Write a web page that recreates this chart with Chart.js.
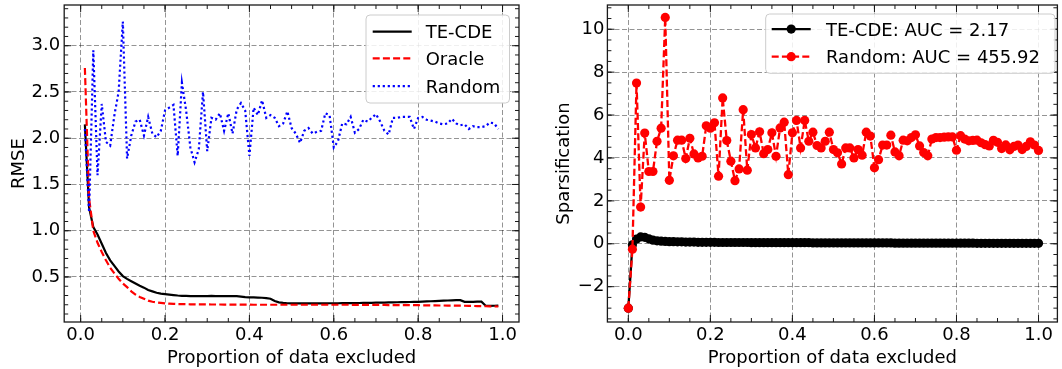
<!DOCTYPE html>
<html><head><meta charset="utf-8">
<script src="https://cdn.jsdelivr.net/npm/chart.js@4.4.1/dist/chart.umd.min.js"></script>
<style>
html,body{margin:0;padding:0;background:#fff;overflow:hidden;}
#wrap{position:relative;width:1062px;height:369px;}
canvas{position:absolute;top:0;}
#c1{left:0;} #c2{left:530px;}
</style></head><body>
<div id="wrap"><canvas id="c1" width="530" height="369"></canvas><canvas id="c2" width="532" height="369"></canvas></div>
<script>
// ---------- data ----------
const xLeft = [0.01,0.02,0.03,0.04,0.05,0.06,0.07,0.08,0.09,0.10,0.11,0.12,0.13,0.14,0.15,0.16,0.17,0.18,0.19,0.20,0.21,0.22,0.23,0.24,0.25,0.26,0.27,0.28,0.29,0.30,0.31,0.32,0.33,0.34,0.35,0.36,0.37,0.38,0.39,0.40,0.41,0.42,0.43,0.44,0.45,0.46,0.47,0.48,0.49,0.50,0.51,0.52,0.53,0.54,0.55,0.56,0.57,0.58,0.59,0.60,0.61,0.62,0.63,0.64,0.65,0.66,0.67,0.68,0.69,0.70,0.71,0.72,0.73,0.74,0.75,0.76,0.77,0.78,0.79,0.80,0.81,0.82,0.83,0.84,0.85,0.86,0.87,0.88,0.89,0.90,0.91,0.92,0.93,0.94,0.95,0.96,0.97,0.98,0.99];

const rmseTECDE = [2.15,1.25,1.04,0.96,0.86,0.76,0.68,0.62,0.56,0.51,
 0.48,0.455,0.43,0.405,0.385,0.36,0.345,0.33,0.32,0.315,
 0.31,0.305,0.30,0.297,0.295,0.294,0.294,0.293,0.294,0.294,
 0.295,0.294,0.294,0.293,0.294,0.294,0.293,0.288,0.282,0.28,
 0.279,0.278,0.276,0.272,0.265,0.24,0.226,0.22,0.216,0.215,
 0.215,0.215,0.214,0.215,0.215,0.216,0.215,0.215,0.216,0.216,
 0.216,0.217,0.217,0.218,0.218,0.219,0.22,0.22,0.221,0.222,
 0.223,0.224,0.225,0.226,0.227,0.228,0.229,0.23,0.231,0.232,
 0.234,0.236,0.238,0.24,0.242,0.244,0.246,0.248,0.249,0.25,
 0.232,0.232,0.232,0.233,0.233,0.19,0.188,0.189,0.19];

const rmseOracle = [2.76,1.35,1.0,0.87,0.77,0.68,0.6,0.54,0.48,0.43,
 0.39,0.345,0.31,0.285,0.265,0.245,0.232,0.225,0.22,0.215,
 0.212,0.21,0.208,0.207,0.206,0.205,0.205,0.204,0.204,0.204,
 0.203,0.203,0.203,0.202,0.202,0.202,0.202,0.201,0.201,0.201,
 0.2,0.2,0.2,0.2,0.2,0.2,0.2,0.2,0.2,0.2,
 0.2,0.2,0.2,0.2,0.2,0.2,0.2,0.2,0.2,0.2,
 0.2,0.2,0.2,0.2,0.199,0.199,0.199,0.199,0.198,0.198,
 0.198,0.198,0.197,0.197,0.197,0.196,0.196,0.196,0.195,0.195,
 0.194,0.194,0.193,0.193,0.192,0.192,0.191,0.191,0.19,0.19,
 0.189,0.188,0.187,0.186,0.185,0.184,0.183,0.182,0.181];

const rmseRandom = [2.1,1.2,2.95,1.6,2.37,1.96,1.92,2.25,2.5,3.26,
 1.78,2.03,2.18,2.2,2.03,2.23,2.05,2.01,2.08,2.3,
 2.33,2.36,1.81,2.6,2.3,1.9,1.74,1.88,2.5,1.86,
 2.22,2.2,2.27,2.08,2.27,2.05,2.31,2.38,2.3,1.81,
 2.33,2.25,2.41,2.22,2.25,2.22,2.13,2.16,2.29,2.11,
 2.05,1.95,2.08,2.11,2.05,2.07,2.08,2.27,2.25,1.9,
 1.97,2.16,2.15,2.23,2.06,2.1,2.2,2.18,2.22,2.26,
 2.18,2.08,2.04,2.22,2.22,2.23,2.23,2.23,2.1,2.22,
 2.23,2.2,2.19,2.18,2.16,2.15,2.16,2.21,2.16,2.14,
 2.15,2.1,2.13,2.12,2.12,2.13,2.17,2.16,2.1];

const xRight = [0.00,0.01,0.02,0.03,0.04,0.05,0.06,0.07,0.08,0.09,0.10,0.11,0.12,0.13,0.14,0.15,0.16,0.17,0.18,0.19,0.20,0.21,0.22,0.23,0.24,0.25,0.26,0.27,0.28,0.29,0.30,0.31,0.32,0.33,0.34,0.35,0.36,0.37,0.38,0.39,0.40,0.41,0.42,0.43,0.44,0.45,0.46,0.47,0.48,0.49,0.50,0.51,0.52,0.53,0.54,0.55,0.56,0.57,0.58,0.59,0.60,0.61,0.62,0.63,0.64,0.65,0.66,0.67,0.68,0.69,0.70,0.71,0.72,0.73,0.74,0.75,0.76,0.77,0.78,0.79,0.80,0.81,0.82,0.83,0.84,0.85,0.86,0.87,0.88,0.89,0.90,0.91,0.92,0.93,0.94,0.95,0.96,0.97,0.98,0.99,1.00];

const sparTECDE = [-3.0,-0.05,0.22,0.32,0.3,0.23,0.17,0.14,0.12,0.11,
 0.1,0.1,0.09,0.09,0.08,0.08,0.08,0.07,0.07,0.07,
 0.07,0.07,0.06,0.06,0.06,0.06,0.06,0.06,0.06,0.06,
 0.05,0.05,0.05,0.05,0.05,0.05,0.05,0.05,0.05,0.05,
 0.05,0.05,0.05,0.05,0.05,0.04,0.04,0.04,0.04,0.04,
 0.04,0.04,0.04,0.04,0.04,0.04,0.04,0.04,0.04,0.04,
 0.04,0.04,0.04,0.04,0.04,0.03,0.03,0.03,0.03,0.03,
 0.03,0.03,0.03,0.03,0.03,0.03,0.03,0.03,0.03,0.03,
 0.03,0.03,0.03,0.03,0.03,0.02,0.02,0.02,0.02,0.02,
 0.02,0.02,0.02,0.02,0.02,0.02,0.02,0.02,0.02,0.02,
 0.02];

const sparRandom = [-3.0,-0.25,7.49,1.71,5.16,3.37,3.37,4.78,5.39,10.55,
 2.96,4.1,4.83,4.83,3.97,4.92,4.19,4.0,4.08,5.5,
 5.39,5.64,3.15,6.8,4.81,3.85,2.94,3.49,6.25,3.43,
 5.09,4.47,5.22,4.2,4.39,5.17,4.08,5.4,5.67,3.22,
 5.17,5.75,4.47,5.75,4.78,5.2,4.58,4.47,4.78,5.2,
 4.39,4.24,3.72,4.47,4.47,4.0,4.39,4.13,5.2,5.02,
 3.54,3.92,4.6,4.6,5.06,4.28,4.1,4.83,4.8,4.95,
 5.08,4.56,4.25,4.1,4.88,4.95,4.95,4.97,4.98,4.98,
 4.36,5.04,4.88,4.8,4.82,4.83,4.71,4.62,4.56,4.82,
 4.73,4.44,4.61,4.38,4.54,4.6,4.39,4.54,4.75,4.6,
 4.35];

const xTicks = [0.0,0.2,0.4,0.6,0.8,1.0];
const xTickLabels = ['0.0','0.2','0.4','0.6','0.8','1.0'];
const leftYTicks = [0.5,1.0,1.5,2.0,2.5,3.0];
const leftYTickLabels = ['0.5','1.0','1.5','2.0','2.5','3.0'];
const rightYTicks = [-2,0,2,4,6,8,10];
const rightYTickLabels = ['\u22122','0','2','4','6','8','10'];
const leftLabels = ['TE-CDE','Oracle','Random'];
const rightLabels = ['TE-CDE: AUC = 2.17','Random: AUC = 455.92'];

// ---------- helpers ----------
Chart.defaults.font.family = "'DejaVu Sans', sans-serif";
Chart.defaults.font.size = 18;
Chart.defaults.color = '#000';
Chart.defaults.animation = false;

function pts(xs, ys){ return xs.map((x,i)=>({x:x, y:ys[i]})); }
function steps(lo, hi, st){ const out=[]; const n0=Math.ceil(lo/st-1e-9), n1=Math.floor(hi/st+1e-9); for(let n=n0;n<=n1;n++) out.push(+(n*st).toFixed(6)); return out; }

function fitW(w){ return s=>{ s.width=w; s.paddingTop=0; s.paddingBottom=0; s.paddingLeft=0; s.paddingRight=0; }; }
function fitH(h){ return s=>{ s.height=h; s.paddingTop=0; s.paddingBottom=0; s.paddingLeft=0; s.paddingRight=0; }; }
function setTicks(vals){ return s=>{ s.ticks = vals.map(v=>({value:v})); }; }

const gridCol = 'rgba(0,0,0,0.42)';

const framePlugin = {
  id:'frame',
  afterDatasetsDraw(chart, args, o){
    const {ctx, chartArea:a} = chart;
    const xs = chart.scales.x, ys = chart.scales.y;
    ctx.save();
    ctx.setLineDash([]);
    ctx.strokeStyle = '#1a1a1a';
    ctx.lineWidth = 1;
    const tx = (v,len)=>{ const p = xs.getPixelForValue(v); if(p<a.left+1||p>a.right-1) return;
      ctx.beginPath(); ctx.moveTo(p,a.bottom); ctx.lineTo(p,a.bottom-len); ctx.moveTo(p,a.top); ctx.lineTo(p,a.top+len); ctx.stroke(); };
    const ty = (v,len)=>{ const p = ys.getPixelForValue(v); if(p<a.top+1||p>a.bottom-1) return;
      ctx.beginPath(); ctx.moveTo(a.left,p); ctx.lineTo(a.left+len,p); ctx.moveTo(a.right,p); ctx.lineTo(a.right-len,p); ctx.stroke(); };
    steps(xs.min, xs.max, o.xMinor).forEach(v=>tx(v,4));
    steps(ys.min, ys.max, o.yMinor).forEach(v=>ty(v,4));
    o.xMajor.forEach(v=>tx(v,7));
    o.yMajor.forEach(v=>ty(v,7));
    ctx.lineWidth = 1.3;
    ctx.strokeRect(a.left, a.top, a.right-a.left, a.bottom-a.top);
    ctx.restore();
  },
  afterDraw(chart, args, o){
    const L = o.legend; const ctx = chart.ctx;
    ctx.save();
    const r = 4;
    ctx.beginPath();
    ctx.moveTo(L.x+r, L.y); ctx.lineTo(L.x+L.w-r, L.y); ctx.quadraticCurveTo(L.x+L.w, L.y, L.x+L.w, L.y+r);
    ctx.lineTo(L.x+L.w, L.y+L.h-r); ctx.quadraticCurveTo(L.x+L.w, L.y+L.h, L.x+L.w-r, L.y+L.h);
    ctx.lineTo(L.x+r, L.y+L.h); ctx.quadraticCurveTo(L.x, L.y+L.h, L.x, L.y+L.h-r);
    ctx.lineTo(L.x, L.y+r); ctx.quadraticCurveTo(L.x, L.y, L.x+r, L.y); ctx.closePath();
    ctx.fillStyle = 'rgba(255,255,255,0.85)'; ctx.fill();
    ctx.strokeStyle = '#cccccc'; ctx.lineWidth = 1; ctx.stroke();
    ctx.font = "18px 'DejaVu Sans', sans-serif";
    ctx.textBaseline = 'alphabetic'; ctx.textAlign = 'left';
    chart.data.datasets.forEach((ds,i)=>{
      const yb = L.base[i]; const yc = yb - 6.6;
      ctx.strokeStyle = ds.borderColor; ctx.lineWidth = ds.borderWidth;
      ctx.setLineDash(ds.borderDash || []);
      ctx.beginPath(); ctx.moveTo(L.x0, yc); ctx.lineTo(L.x1, yc); ctx.stroke();
      ctx.setLineDash([]);
      if (ds.pointRadius > 0){ ctx.fillStyle = ds.borderColor; ctx.beginPath(); ctx.arc((L.x0+L.x1)/2, yc, ds.pointRadius, 0, Math.PI*2); ctx.fill(); }
      ctx.fillStyle = '#000';
      ctx.fillText(ds.label, L.tx, yb);
    });
    ctx.restore();
  }
};

function axisX(min, max){
  return {type:'linear', min:min, max:max,
    afterBuildTicks:setTicks(xTicks), afterFit:fitH(47),
    ticks:{autoSkip:false, maxRotation:0, padding:2.5, callback:(v,i)=>xTickLabels[i]},
    grid:{color:gridCol, lineWidth:1, drawTicks:false},
    border:{display:false, dash:[5,2.5]},
    title:{display:true, text:'Proportion of data excluded', padding:{top:0,bottom:0}}};
}

// ---------- left chart ----------
new Chart(document.getElementById('c1'), {
  type:'line',
  data:{datasets:[
    {label:leftLabels[0], data:pts(xLeft,rmseTECDE), borderColor:'#000000', borderWidth:2.2, pointRadius:0, tension:0, order:3},
    {label:leftLabels[1], data:pts(xLeft,rmseOracle), borderColor:'#ff0000', borderWidth:2.2, borderDash:[7,3.2], pointRadius:0, tension:0, order:2},
    {label:leftLabels[2], data:pts(xLeft,rmseRandom), borderColor:'#0000ff', borderWidth:2.2, borderDash:[2.2,2.8], pointRadius:0, tension:0, order:1}
  ]},
  options:{responsive:false, animation:false, events:[],
    layout:{padding:{left:0, right:11, top:5, bottom:0}},
    plugins:{legend:{display:false}, tooltip:{enabled:false},
      frame:{xMinor:0.05, yMinor:0.1, xMajor:xTicks, yMajor:leftYTicks,
        legend:{x:366, y:15, w:143.5, h:88, x0:372.7, x1:411.7, tx:425.7, base:[38.3,65,92.7]}}},
    scales:{
      x:axisX(-0.039, 1.039),
      y:{type:'linear', min:0.0136, max:3.44,
        afterBuildTicks:setTicks(leftYTicks), afterFit:fitW(64.2),
        ticks:{autoSkip:false, padding:4, callback:(v,i)=>leftYTickLabels[i]},
        grid:{color:gridCol, lineWidth:1, drawTicks:false},
        border:{display:false, dash:[5,2.5]},
        title:{display:true, text:'RMSE', padding:{top:9,bottom:0}}}
    }},
  plugins:[framePlugin]
});

// ---------- right chart ----------
new Chart(document.getElementById('c2'), {
  type:'line',
  data:{datasets:[
    {label:rightLabels[0], data:pts(xRight,sparTECDE), borderColor:'#000000', backgroundColor:'#000000', borderWidth:2.3, pointRadius:4.6, pointBorderWidth:0, pointBackgroundColor:'#000000', tension:0, order:2},
    {label:rightLabels[1], data:pts(xRight,sparRandom), borderColor:'#ff0000', backgroundColor:'#ff0000', borderWidth:2.3, borderDash:[7,3.2], pointRadius:4.6, pointBorderWidth:0, pointBackgroundColor:'#ff0000', tension:0, order:1}
  ]},
  options:{responsive:false, animation:false, events:[],
    layout:{padding:{left:0, right:1, top:5, bottom:0}},
    plugins:{legend:{display:false}, tooltip:{enabled:false},
      frame:{xMinor:0.05, yMinor:0.5, xMajor:xTicks, yMajor:rightYTicks,
        legend:{x:235.7, y:14, w:289.3, h:59.3, x0:241.7, x1:280.7, tx:296, base:[35.7,63.3]}}},
    scales:{
      x:axisX(-0.051, 1.046),
      y:{type:'linear', min:-3.646, max:11.13,
        afterBuildTicks:setTicks(rightYTicks), afterFit:fitW(77.4),
        ticks:{autoSkip:false, padding:3, callback:(v,i)=>rightYTickLabels[i]},
        grid:{color:gridCol, lineWidth:1, drawTicks:false},
        border:{display:false, dash:[5,2.5]},
        title:{display:true, text:'Sparsification', padding:{top:24,bottom:0}}}
    }},
  plugins:[framePlugin]
});
</script>
</body></html>
